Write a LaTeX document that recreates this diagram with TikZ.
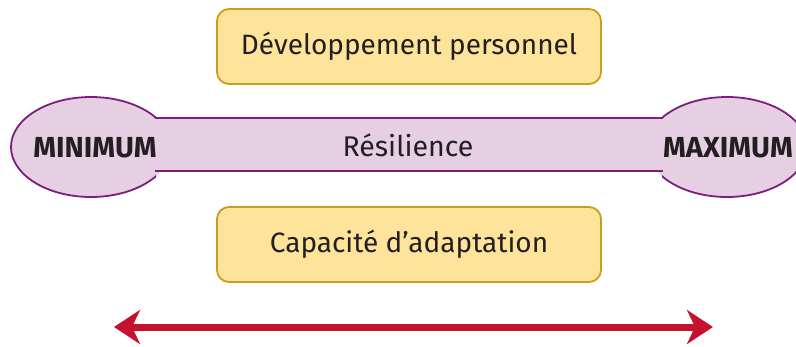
\documentclass[tikz,border=0pt]{standalone}
\usepackage{fontspec}
\setmainfont{Fira Sans}
\usetikzlibrary{arrows.meta}
\definecolor{lilafill}{HTML}{E7CFE3}
\definecolor{lilaline}{HTML}{7B1E7D}
\definecolor{yelfill}{HTML}{FEE49B}
\definecolor{yelline}{HTML}{C99E1C}
\definecolor{txt}{HTML}{231F20}
\definecolor{arrred}{HTML}{C4122F}
\tikzset{
  ybox/.style={draw=yelline, fill=yelfill, line width=1.8pt, rounded corners=12pt,
    minimum width=384pt, minimum height=75pt, text=txt, font=\fontsize{28}{32}\selectfont},
  extremity/.style={text=txt, font=\fontsize{29}{32}\selectfont\bfseries},
}
\begin{document}
\begin{tikzpicture}[x=1pt,y=-1pt]
\clip (0,0) rectangle (796,346);
\useasboundingbox (0,0) rectangle (796,346);
% resilience bar with end bulbs
\fill[lilafill] (91,147) ellipse [x radius=80, y radius=50];
\fill[lilafill] (727,147) ellipse [x radius=80, y radius=50];
\fill[lilafill] (150,118) rectangle (668,171);
\begin{scope}
  \clip (0,0) rectangle (156,346);
  \draw[lilaline, line width=1.8pt] (91,147) ellipse [x radius=80, y radius=50];
\end{scope}
\begin{scope}
  \clip (662,0) rectangle (900,346);
  \draw[lilaline, line width=1.8pt] (727,147) ellipse [x radius=80, y radius=50];
\end{scope}
\fill[lilafill] (150,119) rectangle (668,170);
\draw[lilaline, line width=1.8pt]
  (155,118) -- (663,118)
  (155,171) -- (663,171);
\node[extremity] (min) at (95,148) {MINIMUM};
\node[extremity] (max) at (728,148) {MAXIMUM};
\node[text=txt, font=\fontsize{28.5}{32}\selectfont] (res) at (408,145) {Résilience};
% boxes
\node[ybox] (dev) at (409,46.5) {Développement personnel};
\node[ybox] (cap) at (409,244.5) {Capacité d’adaptation};
% arrow
\coordinate (al) at (114,327);
\coordinate (ar) at (713,327);
\draw[arrred, line width=7pt, {Stealth[length=26pt, width=34pt, inset=8pt]}-{Stealth[length=26pt, width=34pt, inset=8pt]}] (al) -- (ar);
\end{tikzpicture}
\end{document}
